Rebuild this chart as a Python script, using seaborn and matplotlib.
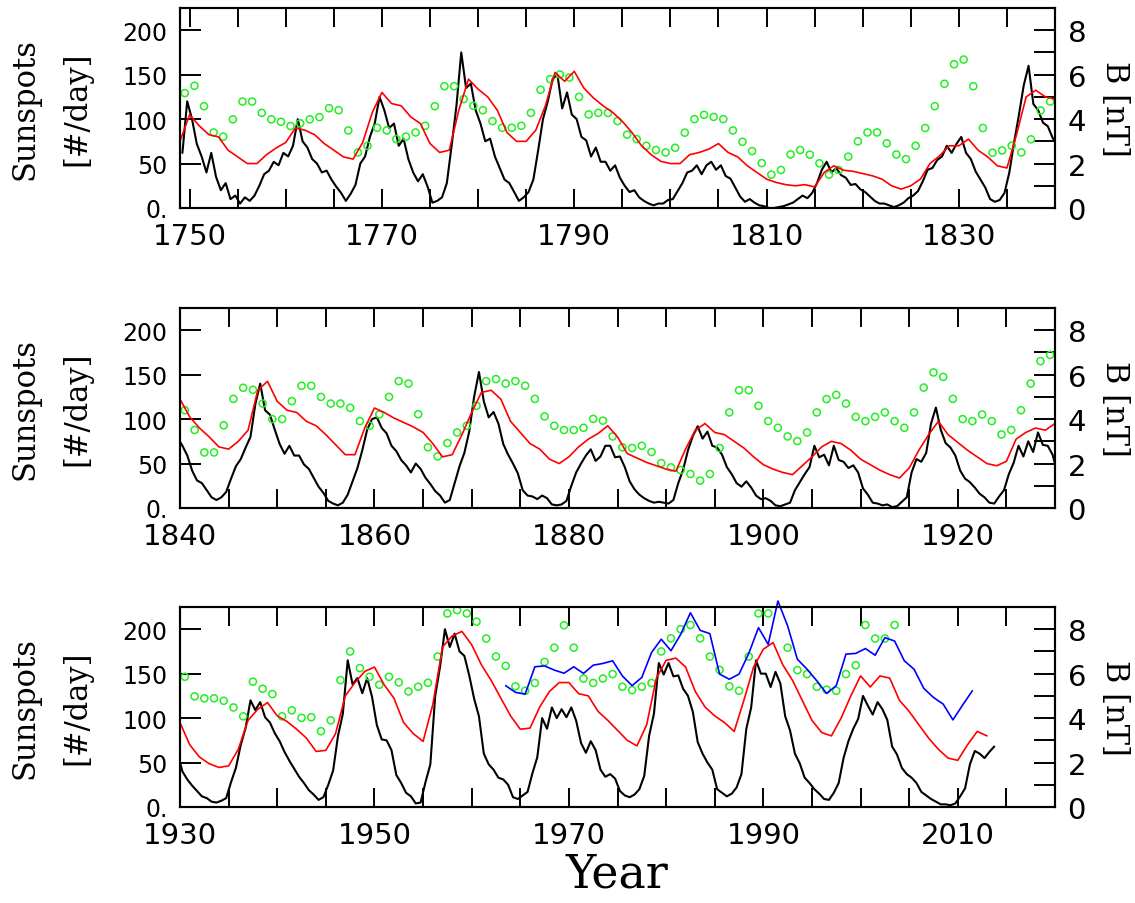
import numpy as np
import matplotlib
matplotlib.use("Agg")
import matplotlib.pyplot as plt
import seaborn as sns

sns.set_theme(style="white")
plt.rcParams['font.family'] = ['DejaVu Sans']
plt.rcParams['text.color'] = 'black'
plt.rcParams['xtick.color'] = 'black'
plt.rcParams['ytick.color'] = 'black'

# sunspot number (black curve), two readings per year, 1749..2013
ssn_start = 1749
ssn = [
    62, 120, 100, 72, 58, 40, 62, 35, 20, 28, 10, 14, 5, 12, 8, 14, 25, 38, 42, 52,      # 1749-58
    48, 62, 58, 70, 100, 75, 68, 55, 50, 40, 42, 32, 24, 17, 8, 16, 26, 50, 58, 80,      # 1759-68
    95, 125, 110, 90, 95, 70, 78, 55, 40, 30, 38, 24, 6, 8, 12, 28, 70, 115, 175, 135,   # 1769-78
    140, 110, 95, 75, 78, 58, 45, 32, 28, 18, 8, 12, 18, 32, 65, 100, 120, 145, 150, 112,  # 1779-88
    130, 105, 100, 80, 76, 58, 68, 52, 52, 42, 48, 34, 25, 18, 20, 12, 8, 5, 3, 5,     # 1789-98
    5, 9, 10, 19, 28, 40, 42, 48, 38, 48, 52, 43, 48, 36, 33, 23, 13, 7, 10, 6,          # 1799-1808
    3, 2, 0, 0, 1, 2, 4, 6, 10, 14, 11, 17, 28, 43, 52, 40, 45, 37, 34, 26,              # 1809-18
    27, 21, 18, 13, 8, 5, 5, 3, 1, 3, 6, 11, 14, 19, 30, 43, 45, 54, 58, 70,             # 1819-28
    62, 72, 80, 62, 55, 41, 32, 23, 10, 7, 9, 17, 40, 74, 105, 138, 160, 117, 110, 96,   # 1829-38
    92, 79, 70, 59, 42, 31, 28, 20, 12, 9, 12, 18, 33, 47, 55, 68, 80, 117, 140, 110,    # 1839-48
    105, 88, 72, 61, 70, 59, 59, 49, 44, 34, 24, 17, 8, 5, 3, 6, 15, 30, 45, 65,         # 1849-58
    88, 100, 102, 90, 84, 70, 64, 54, 48, 40, 50, 44, 34, 27, 19, 14, 6, 9, 28, 47,      # 1859-68
    62, 86, 125, 153, 120, 102, 108, 95, 72, 60, 50, 39, 20, 14, 13, 10, 14, 11, 4, 3,   # 1869-78
    4, 8, 25, 40, 50, 59, 66, 53, 58, 70, 70, 57, 58, 46, 30, 21, 15, 11, 8, 6,          # 1879-88
    7, 6, 5, 9, 28, 43, 65, 81, 92, 78, 86, 70, 68, 60, 46, 38, 28, 24, 30, 23,          # 1889-98
    14, 10, 11, 8, 3, 2, 4, 6, 20, 29, 38, 46, 70, 57, 60, 48, 70, 54, 52, 45,           # 1899-1908
    48, 40, 22, 15, 6, 5, 3, 4, 1, 2, 7, 12, 40, 55, 52, 62, 95, 113, 88, 73,            # 1909-18
    68, 59, 42, 33, 29, 23, 16, 12, 6, 5, 13, 20, 38, 51, 70, 58, 75, 63, 85, 71,        # 1919-28
    70, 60, 40, 31, 24, 18, 12, 10, 6, 5, 7, 10, 28, 44, 70, 89, 120, 109, 118, 101,     # 1929-38
    95, 83, 74, 62, 52, 43, 34, 27, 19, 14, 8, 11, 25, 41, 80, 105, 165, 138, 145, 128,  # 1939-48
    145, 124, 92, 76, 75, 64, 36, 27, 16, 12, 4, 5, 28, 48, 125, 158, 200, 180, 195, 175,  # 1949-58
    170, 148, 122, 102, 60, 48, 42, 33, 31, 25, 11, 9, 13, 17, 38, 56, 100, 88, 112, 100,  # 1959-68
    110, 101, 112, 97, 72, 61, 74, 64, 42, 34, 37, 32, 18, 13, 11, 14, 20, 35, 80, 105,  # 1969-78
    162, 149, 162, 147, 148, 133, 125, 107, 73, 60, 50, 42, 20, 16, 12, 15, 22, 37, 88, 112,  # 1979-88
    165, 150, 150, 135, 152, 139, 102, 86, 60, 49, 33, 27, 20, 15, 9, 8, 16, 27, 55, 74,  # 1989-98
    88, 99, 125, 114, 104, 118, 110, 98, 68, 59, 44, 37, 33, 27, 17, 13, 9, 6, 3, 3,     # 1999-2008
    2, 4, 12, 21, 48, 63, 60, 55, 62, 68,                                                # 2009-13
]

# red curve (B from sunspots) in nT, 1749..2013 at whole years
red_start = 1749
red_b = [
    3.0, 4.2, 3.7, 3.3, 3.2, 2.6, 2.3, 2.0, 2.0, 2.4,
    2.7, 2.95, 3.6, 3.5, 3.3, 2.9, 2.6, 2.3, 2.2, 2.95,
    4.3, 5.2, 4.7, 4.6, 4.1, 3.8, 2.9, 2.5, 2.6, 4.4,
    5.8, 5.35, 5.0, 4.4, 3.4, 3.0, 3.0, 3.5, 4.6, 6.1,
    5.7, 6.15, 5.4, 4.95, 4.6, 4.3, 3.9, 3.4, 2.8, 2.4,
    2.1, 2.0, 2.0, 2.4, 2.5, 2.65, 2.9, 2.5, 2.3, 1.9,
    1.6, 1.3, 1.15, 1.05, 1.0, 1.05, 0.95, 1.6, 1.9, 1.7,
    1.65, 1.55, 1.45, 1.3, 1.0, 0.85, 1.0, 1.3, 2.0, 2.35,
    2.8, 2.8, 3.1, 2.6, 2.3, 1.9, 1.8, 3.3, 5.0, 5.3,
    5.0, 4.9, 4.1, 3.6, 3.2, 2.75, 2.65, 3.0, 3.5, 5.3,
    5.7, 4.8, 4.4, 4.3, 3.9, 3.7, 3.3, 2.85, 2.4, 2.4,
    3.6, 4.5, 4.3, 4.05, 3.85, 3.65, 3.4, 2.9, 2.3, 2.4,
    3.3, 4.3, 5.2, 5.3, 4.9, 3.9, 3.4, 2.9, 2.65, 2.2,
    2.0, 2.3, 2.75, 3.1, 3.35, 3.7, 3.2, 2.45, 2.25, 2.05,
    1.9, 1.75, 1.65, 2.65, 3.5, 3.8, 3.4, 3.3, 3.0, 2.7,
    2.3, 1.95, 1.75, 1.6, 1.5, 1.9, 2.3, 2.75, 3.0, 2.9,
    2.6, 2.2, 1.95, 1.7, 1.5, 1.35, 1.8, 2.6, 3.3, 3.9,
    3.3, 2.95, 2.6, 2.3, 2.0, 1.9, 2.1, 3.1, 3.4, 3.6,
    3.5, 3.8, 2.8, 2.25, 1.95, 1.78, 1.85, 2.6, 3.9, 4.4,
    4.7, 4.1, 3.85, 3.5, 3.1, 2.5, 2.55, 3.3, 5.0, 5.6,
    6.1, 6.3, 5.5, 4.9, 3.8, 3.3, 2.95, 4.6, 7.2, 7.7,
    7.9, 7.3, 6.4, 5.7, 4.9, 4.1, 3.5, 3.55, 4.5, 5.2,
    5.6, 5.6, 5.1, 5.0, 4.3, 3.9, 3.45, 3.0, 2.75, 3.7,
    5.8, 6.6, 6.7, 6.3, 5.2, 4.5, 4.1, 3.8, 3.4, 4.8,
    6.3, 7.1, 7.4, 6.4, 5.7, 4.8, 3.9, 3.35, 3.2, 4.0,
    5.0, 5.9, 5.4, 5.9, 5.8, 4.8, 4.3, 3.7, 3.1, 2.6,
    2.2, 2.1, 2.8, 3.4, 3.2,
]

# green circles: yearly B from geomagnetic data, 1749..2003 (nT)
geo_start = 1749
geo_b = [
    5.17, 5.50, 4.58, 3.40, 3.21, 3.99, 4.79, 4.79, 4.28, 3.99,
    3.88, 3.69, 3.81, 3.99, 4.09, 4.49, 4.40, 3.49, 2.50, 2.80,
    3.61, 3.49, 3.10, 3.21, 3.40, 3.70, 4.58, 5.48, 5.48, 4.90,
    4.60, 4.40, 3.91, 3.61, 3.61, 3.70, 4.28, 5.32, 5.80, 6.01,
    5.87, 5.00, 4.21, 4.28, 4.28, 3.91, 3.30, 3.10, 2.80, 2.61,
    2.50, 2.71, 3.39, 4.00, 4.19, 4.10, 4.00, 3.49, 2.98, 2.56,
    2.02, 1.50, 1.71, 2.41, 2.61, 2.40, 2.01, 1.50, 1.71, 2.31,
    3.00, 3.40, 3.40, 2.91, 2.41, 2.20, 2.80, 3.60, 4.58, 5.59,
    6.47, 6.68, 5.48, 3.60, 2.49, 2.59, 2.80, 2.50, 3.09, 4.39,
    4.79, 4.40, 3.51, 2.50, 2.50, 3.72, 4.91, 5.41, 5.32, 4.70,
    4.00, 4.00, 4.81, 5.50, 5.50, 5.00, 4.70, 4.70, 4.51, 3.91,
    3.70, 4.21, 5.00, 5.71, 5.60, 4.22, 2.73, 2.32, 2.92, 3.40,
    3.70, 4.60, 5.71, 5.80, 5.60, 5.71, 5.50, 4.91, 4.12, 3.70,
    3.51, 3.51, 3.61, 4.01, 3.93, 3.22, 2.73, 2.70, 2.80, 2.52,
    2.02, 1.83, 1.71, 1.53, 1.23, 1.53, 2.70, 4.30, 5.30, 5.30,
    4.60, 3.91, 3.61, 3.22, 3.01, 3.40, 4.30, 4.90, 5.09, 4.70,
    4.10, 3.91, 4.10, 4.30, 3.91, 3.61, 4.30, 5.42, 6.10, 5.90,
    4.91, 4.00, 3.91, 4.21, 3.91, 3.31, 3.51, 4.40, 5.60, 6.61,
    6.89, 5.86, 4.98, 4.89, 4.89, 4.78, 4.48, 4.08, 5.64, 5.32,
    5.08, 4.08, 4.35, 4.01, 4.04, 3.41, 3.90, 5.71, 7.00, 6.25,
    5.86, 5.50, 5.86, 5.61, 5.20, 5.41, 5.59, 6.77, 8.71, 8.86,
    8.71, 8.34, 7.58, 6.77, 6.35, 5.43, 5.23, 5.58, 6.53, 7.17,
    8.18, 7.17, 5.78, 5.58, 5.78, 5.98, 5.41, 5.26, 5.41, 5.58,
    7.00, 7.59, 8.00, 8.19, 7.59, 6.77, 6.17, 5.43, 5.23, 6.77,
    8.71, 8.71, np.nan, 7.17, 6.16, 5.98, 5.41, 5.28, 5.23, 5.98,
    6.38, 8.19, 7.58, 7.58, 8.19,
]

# blue line: measured yearly B, 1963..2011 (nT)
obs_start = 1963
obs_b = [
    5.46, 5.16, 5.08, 6.31, 6.35, 6.16, 6.02, 6.31, 6.01, 6.38,
    6.46, 6.58, 5.90, 5.46, 5.83, 6.95, 7.55, 7.03, 7.77, 8.74,
    7.95, 7.80, 5.98, 5.75, 5.98, 6.91, 8.07, 7.32, 9.27, 8.15,
    6.65, 6.20, 5.68, 5.11, 5.46, 6.88, 6.91, 7.13, 6.83, 7.62,
    7.47, 6.58, 6.20, 5.34, 4.93, 4.63, 3.92, 4.59, 5.23,
]

panels = [(1749, 1840, 1750), (1840, 1930, 1840), (1930, 2020, 1930)]
panel_tops = [9, 309, 608]

ssn_years = ssn_start + 0.25 + 0.5 * np.arange(len(ssn))
red_years = red_start + np.arange(len(red_b))
geo_years = geo_start + np.arange(len(geo_b)) + 0.5
obs_years = obs_start + np.arange(len(obs_b)) + 0.5

W, H = 1135, 904
fig = plt.figure(figsize=(W / 100, H / 100), dpi=100)

for (x0, x1, lab0), top in zip(panels, panel_tops):
    bottom = top + 200
    ax = fig.add_axes([180 / W, 1 - bottom / H, 875 / W, 200 / H])
    ax2 = ax.twinx()

    sns.lineplot(x=ssn_years, y=ssn, ax=ax, color='black', lw=1.5,
                 estimator=None, sort=False)
    sns.lineplot(x=red_years, y=red_b, ax=ax2, color='#ff0000', lw=1.2,
                 estimator=None, sort=False)
    if x1 > obs_start:
        sns.lineplot(x=obs_years, y=obs_b, ax=ax2, color='#0000ff', lw=1.2,
                     estimator=None, sort=False, clip_on=False)
    sns.scatterplot(x=geo_years, y=geo_b, ax=ax2, marker='o', s=26,
                    facecolor='none', edgecolor='#22ee22', linewidth=1.1)

    ax.set_xlim(x0, x1)
    ax.set_ylim(0, 225)
    ax2.set_ylim(0, 9)

    xt = np.arange(np.ceil(x0 / 5) * 5, x1 + 1, 5)
    ax.set_xticks(xt)
    ax.set_xticklabels([str(int(t)) if (t - lab0) % 20 == 0 else '' for t in xt])
    ax.set_yticks([0, 50, 100, 150, 200])
    ax.set_yticklabels(['0.', '50', '100', '150', '200'])
    ax2.set_yticks(range(0, 9))
    ax2.set_yticklabels([str(v) if v % 2 == 0 else '' for v in range(0, 9)])

    ax.tick_params(axis='x', direction='in', top=True, bottom=True,
                   length=14, width=1.4, labelsize=21, pad=10)
    ax.tick_params(axis='y', direction='in', left=True, right=False,
                   length=15, width=1.4, labelsize=17, pad=9)
    ax2.tick_params(axis='y', direction='in', right=True, left=False,
                    length=15, width=1.4, labelsize=21, pad=9)
    ax.set_xlabel('')
    ax.set_ylabel('')
    ax2.set_ylabel('')
    for a in (ax, ax2):
        for sp in a.spines.values():
            sp.set_linewidth(1.5)
            sp.set_color('black')

    yc = 1 - (top + 100) / H
    fig.text(25 / W, yc, 'Sunspots', rotation=90, ha='center', va='center',
             family='DejaVu Serif', size=22)
    fig.text(77 / W, yc, '[#/day]', rotation=90, ha='center', va='center',
             family='DejaVu Serif', size=22)
    fig.text(1115 / W, yc, 'B [nT]', rotation=270, ha='center', va='center',
             family='DejaVu Serif', size=22)

fig.text(617 / W, 1 - 888 / H, 'Year', ha='center', va='baseline',
         family='DejaVu Serif', size=33)

fig.savefig('out.png', dpi=100)
